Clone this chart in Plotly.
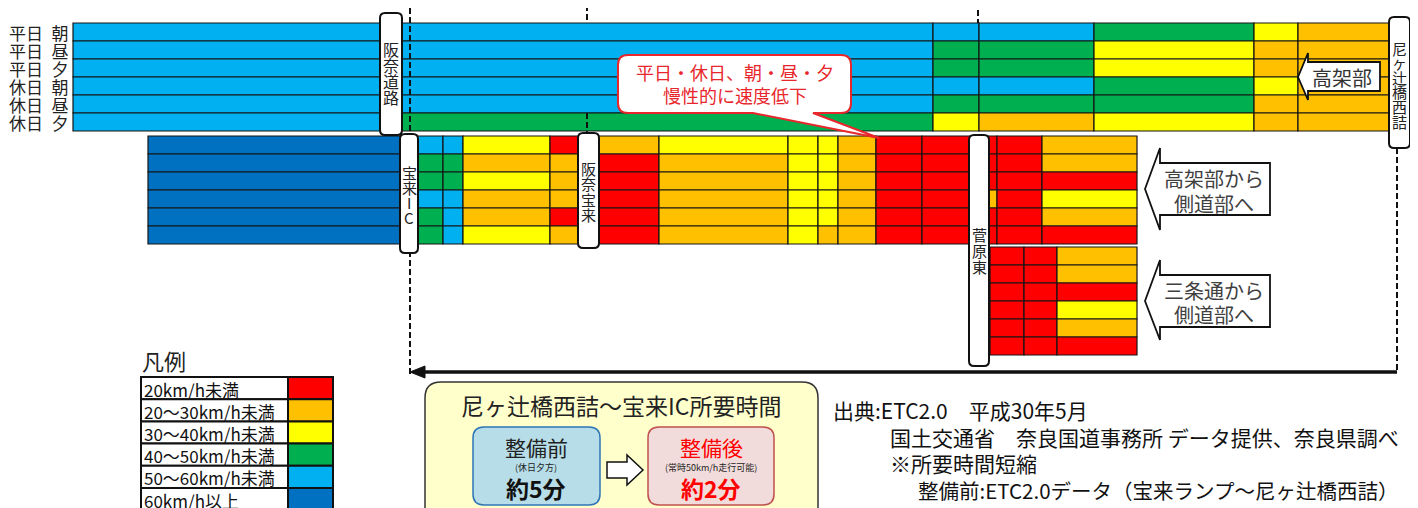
import plotly.graph_objects as go

# ---------------- data ----------------
speed_classes = ["20km/h未満", "20～30km/h未満", "30～40km/h未満",
                 "40～50km/h未満", "50～60km/h未満", "60km/h以上"]
class_codes = ["R", "O", "Y", "G", "L", "D"]
class_colors = ["#FF0000", "#FFC000", "#FFFF00", "#00B050", "#00B0F0", "#0070C0"]

time_slots = ["平日 朝", "平日 昼", "平日 夕", "休日 朝", "休日 昼", "休日 夕"]

# upper band (阪奈道路 ～ 尼ヶ辻橋西詰 高架部): section edges (schematic distance) and class per time slot
upper_edges = [73, 391, 933, 979, 1094, 1254, 1298, 1389]
upper_speed = ["LLLLLL", "LLLLLG", "LGGLGY", "LGGLGO", "GYYGGY", "YOOYOO", "OOOOOO"]

# lower band (宝来IC ～ 菅原東 ～ 高架部から側道部へ)
lower_edges = [148, 409, 443, 463, 550, 588, 659, 788, 818, 838, 876, 922, 979, 997, 1042, 1137]
lower_speed = ["DDDDDD", "LGGLGG", "LGGLLL", "YOYOOY", "ROOORO", "ORRRRR", "YOOOOO",
               "YYYYYY", "YYYYYO", "OOOOOO", "RRRRRR", "RRRRRR", "RRRORR", "RRRRRR", "OORYOR"]

# 三条通から側道部へ
sanjo_edges = [990, 1024, 1057, 1137]
sanjo_speed = ["RRRRRR", "RRRRRR", "OORYOR"]

# ---------------- layout helpers ----------------
W, H = 1418, 508
PAGE_MARGIN = 8  # default body margin of the html page
ROW_H = 18
FONT = "Noto Sans CJK JP"
color_of = dict(zip(class_codes, class_colors))

fig = go.Figure()


def add_band(edges, speeds, top):
    ys, xs, bases, cols = [], [], [], []
    for s, col in enumerate(speeds):
        for r, code in enumerate(col):
            ys.append(top + ROW_H * (r + 0.5))
            bases.append(edges[s])
            xs.append(edges[s + 1] - edges[s])
            cols.append(color_of[code])
    fig.add_trace(go.Bar(orientation="h", y=ys, x=xs, base=bases, width=ROW_H,
                         marker=dict(color=cols, line=dict(color="#151515", width=1.2)),
                         hoverinfo="skip", showlegend=False))


add_band(upper_edges, upper_speed, 23)
add_band(lower_edges, lower_speed, 136)
add_band(sanjo_edges, sanjo_speed, 247)

shapes = []
annots = []


def rrect(x0, y0, x1, y1, r):
    return (f"M {x0+r},{y0} L {x1-r},{y0} Q {x1},{y0} {x1},{y0+r} L {x1},{y1-r} "
            f"Q {x1},{y1} {x1-r},{y1} L {x0+r},{y1} Q {x0},{y1} {x0},{y1-r} "
            f"L {x0},{y0+r} Q {x0},{y0} {x0+r},{y0} Z")


def text(x, y, t, size, color="#222", xanchor="center", bold=False):
    if bold:
        t = f"<b>{t}</b>"
    annots.append(dict(x=x, y=y, xref="x", yref="y", text=t, showarrow=False,
                       xanchor=xanchor, yanchor="middle", borderpad=0,
                       font=dict(family=FONT, size=size, color=color)))


# dashed reference lines
for (x, y0, y1) in [(410, 8, 375), (587, 5, 23), (587, 113, 135), (978, 10, 23), (1397, 148, 372)]:
    shapes.append(dict(type="line", xref="x", yref="y", x0=x, x1=x, y0=y0, y1=y1,
                       line=dict(color="#111", width=2, dash="6px,3px")))

# point labels (vertical text boxes)
points = [("阪奈道路", 380, 402, 13, 135, 49, 16, 16),
          ("宝来IC", 400, 418, 134, 253, 172, 15, 15),
          ("阪奈宝来", 578, 599, 133, 248, 168, 15.5, 15),
          ("菅原東", 969, 989, 135, 366, 234, 16, 15),
          ("尼ヶ辻橋西詰", 1389, 1410, 17, 148, 48, 14.6, 15)]
for name, x0, x1, y0, y1, cy, step, fs in points:
    shapes.append(dict(type="path", xref="x", yref="y", path=rrect(x0, y0, x1, y1, 5),
                       fillcolor="white", line=dict(color="#111", width=2)))
    for i, ch in enumerate(name):
        text((x0 + x1) / 2, cy + i * step, ch, fs, "#222")

# row labels
for i, lab in enumerate(time_slots):
    text(8, 23 + ROW_H * (i + 0.5), lab.replace(" ", "\u2002"), 17, "#222", xanchor="left")

# callout
callout = ("M 628,55 L 841,55 Q 851,55 851,65 L 851,103 Q 851,113 841,113 L 813,113 "
           "L 879,138 L 753,113 L 628,113 Q 618,113 618,103 L 618,65 Q 618,55 628,55 Z")
shapes.append(dict(type="path", xref="x", yref="y", path=callout, fillcolor="white",
                   line=dict(color="#E8262B", width=2)))
text(735, 72, "平日・休日、朝・昼・夕", 18, "#E8262B")
text(735, 95, "慢性的に速度低下", 18, "#E8262B")

# white block arrows
arrow1 = "M 1298,77 L 1308,53 L 1308,62 L 1380,62 L 1380,91 L 1308,91 L 1308,100 Z"
arrow2 = "M 1145,189 L 1160,148 L 1160,163 L 1270,163 L 1270,215 L 1160,215 L 1160,230 Z"
arrow3 = "M 1145,301 L 1160,260 L 1160,275 L 1270,275 L 1270,327 L 1160,327 L 1160,340 Z"
for p in (arrow1, arrow2, arrow3):
    shapes.append(dict(type="path", xref="x", yref="y", path=p, fillcolor="white",
                       line=dict(color="#111", width=1.8)))
text(1342, 77, "高架部", 20, "#333")
text(1214, 178, "高架部から", 20, "#404040")
text(1214, 203, "側道部へ", 20, "#404040")
text(1214, 290, "三条通から", 20, "#404040")
text(1214, 314, "側道部へ", 20, "#404040")

# bottom long arrow
shapes.append(dict(type="line", xref="x", yref="y", x0=420, x1=1397, y0=372, y1=372,
                   line=dict(color="#111", width=3.5)))
shapes.append(dict(type="path", xref="x", yref="y", path="M 410,372 L 425,366 L 425,378 Z",
                   fillcolor="#111", line=dict(color="#111", width=1)))

# legend table
text(141, 360, "凡例", 22, "#222", xanchor="left")
leg_top, leg_h = 377, 22.2
for i, (lab, col) in enumerate(zip(speed_classes, class_colors)):
    y0 = leg_top + i * leg_h
    shapes.append(dict(type="rect", xref="x", yref="y", x0=141, x1=288, y0=y0, y1=y0 + leg_h,
                       fillcolor="white", line=dict(color="#111", width=2)))
    shapes.append(dict(type="rect", xref="x", yref="y", x0=288, x1=333, y0=y0, y1=y0 + leg_h,
                       fillcolor=col, line=dict(color="#111", width=2)))
    text(143, y0 + leg_h / 2 + 1, lab, 17, "#111", xanchor="left")

# travel time box
shapes.append(dict(type="path", xref="x", yref="y", path=rrect(425, 382, 818, 535, 16),
                   fillcolor="#FFFFCC", line=dict(color="#333", width=1.5)))
text(621, 405, "尼ヶ辻橋西詰～宝来IC所要時間", 23, "#222")
shapes.append(dict(type="path", xref="x", yref="y", path=rrect(473, 427, 600, 505, 11),
                   fillcolor="#B7DEE8", line=dict(color="#2E75B6", width=1.5)))
shapes.append(dict(type="path", xref="x", yref="y", path=rrect(648, 427, 774, 505, 11),
                   fillcolor="#F2DCDB", line=dict(color="#C0504D", width=1.5)))
shapes.append(dict(type="path", xref="x", yref="y",
                   path="M 607,462 L 627,462 L 627,455 L 643,470 L 627,485 L 627,478 L 607,478 Z",
                   fillcolor="white", line=dict(color="#111", width=1.5)))
text(536, 447, "整備前", 21, "#222")
text(536, 467, "(休日夕方)", 9, "#222")
text(536, 488, "約5分", 23, "#111", bold=True)
text(711, 447, "整備後", 21, "#FF0000")
text(711, 467, "(常時50km/h走行可能)", 9, "#222")
text(711, 488, "約2分", 23, "#FF0000", bold=True)

# source notes
text(832, 410, "出典:ETC2.0　平成30年5月", 21, "#111", xanchor="left")
text(889, 437, "国土交通省　奈良国道事務所 データ提供、奈良県調べ", 21, "#111", xanchor="left")
text(889, 463, "※所要時間短縮", 21, "#111", xanchor="left")
text(917, 490, "整備前:ETC2.0データ（宝来ランプ～尼ヶ辻橋西詰）", 20.5, "#111", xanchor="left")

fig.update_layout(
    width=W, height=H, margin=dict(l=0, r=0, t=0, b=0),
    paper_bgcolor="white", plot_bgcolor="white", barmode="overlay",
    xaxis=dict(range=[PAGE_MARGIN, W + PAGE_MARGIN], visible=False, fixedrange=True),
    yaxis=dict(range=[H + PAGE_MARGIN, PAGE_MARGIN], visible=False, fixedrange=True),
    shapes=shapes, annotations=annots, showlegend=False,
)

fig.write_html("out.html")
